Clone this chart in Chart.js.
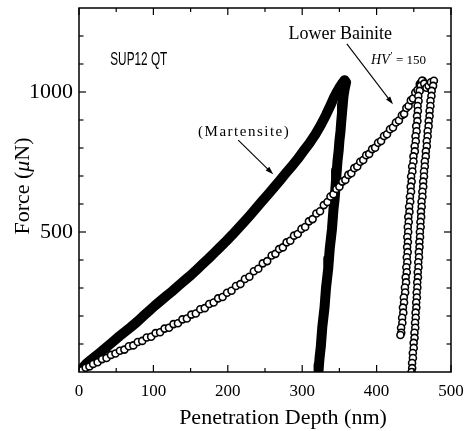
<!DOCTYPE html>
<html>
<head>
<meta charset="utf-8">
<script src="https://cdn.jsdelivr.net/npm/chart.js@4.4.1/dist/chart.umd.min.js"></script>
<style>
  html, body { margin: 0; background: #fff; }
  #wrap { width: 469px; height: 431px; }
</style>
</head>
<body>
<div id="wrap"><canvas id="chart" width="469" height="431"></canvas></div>
<script>
// Martensite (filled band): loading then unloading
const martLoadDepth = [1, 5, 10, 16, 22, 30, 38, 46, 54, 62, 70, 78, 86, 94, 102, 110, 118, 126, 134, 142, 150, 158, 166, 174, 182, 190, 198, 206, 214, 222, 230, 238, 246, 254, 262, 270, 278, 286, 294, 302, 310, 318, 325, 332, 338, 343, 347, 351, 354, 357];
const martLoadForce = [3, 15, 30, 43, 56, 73, 91, 109, 127, 144, 161, 179, 199, 218, 237, 255, 273, 290, 309, 327, 345, 365, 385, 405, 426, 447, 468, 490, 513, 536, 560, 585, 610, 634, 659, 684, 710, 735, 761, 790, 818, 850, 882, 918, 952, 982, 1002, 1020, 1032, 1042];
const martUnloadDepth = [359, 357, 355.5, 354.5, 353.5, 352.5, 351.5, 350, 349, 347.5, 346.5, 345.5, 344.5, 343.5, 342, 341, 340, 338.5, 337, 336, 335, 333.5, 332, 331, 330, 328.5, 327, 326, 325, 323.5, 322.5, 322];
const martUnloadForce = [1035, 1010, 985, 955, 925, 895, 860, 825, 790, 755, 720, 685, 650, 615, 580, 545, 510, 475, 440, 405, 370, 335, 300, 265, 230, 195, 160, 125, 90, 55, 25, 5];

// Lower bainite (open circles): loading, short reload between peaks, two unloading branches
const bainLoadDepth = [4, 9, 14, 19, 25, 31, 37, 43, 49, 55, 61, 67, 73, 79, 85, 91, 97, 103, 109, 115, 121, 127, 133, 139, 145, 151, 157, 163, 169, 175, 181, 187, 193, 199, 205, 211, 217, 223, 229, 235, 241, 247, 253, 259, 264, 269, 274, 279, 284, 289, 294, 299, 304, 309, 314, 319, 324, 329, 334, 338, 342, 346, 350, 354, 358, 362, 366, 370, 374, 378, 382, 386, 390, 394, 398, 402, 406, 410, 414, 418, 422, 426, 430, 434, 437, 440, 443, 446, 449, 452, 455, 458, 460, 462];
const bainLoadForce = [6, 15, 20, 29, 35, 46, 50, 61, 66, 76, 80, 92, 95, 107, 111, 123, 126, 139, 142, 155, 158, 171, 174, 188, 191, 205, 209, 224, 228, 243, 248, 263, 268, 283, 290, 307, 314, 332, 340, 360, 369, 388, 396, 416, 422, 439, 445, 463, 469, 487, 493, 511, 518, 538, 546, 566, 574, 596, 607, 627, 635, 654, 662, 680, 686, 704, 710, 728, 734, 751, 757, 774, 779, 796, 801, 819, 825, 843, 849, 867, 873, 891, 898, 917, 922, 943, 950, 970, 977, 998, 1007, 1028, 1033, 1040];
const bainReloadDepth = [464, 467, 470, 473];
const bainReloadForce = [1030, 1015, 1022, 1035];
const bainUnload1Depth = [461, 459.2, 457.9, 456.0, 456.4, 455.1, 455.5, 454.3, 454.9, 453.2, 453.8, 452.3, 452.7, 451.2, 451.4, 449.5, 449.6, 447.8, 448.1, 446.4, 447.1, 445.8, 446.3, 444.8, 445.2, 443.7, 444.2, 442.6, 443.2, 441.9, 442.5, 441.3, 442.1, 441.0, 441.8, 440.6, 441.3, 440.0, 440.6, 439.1, 439.6, 438.1, 438.4, 436.6, 436.9, 435.4, 435.9, 434.3, 434.6, 432.9, 433.1, 432];
const bainUnload1Force = [1040, 1022, 1004, 986, 968, 950, 932, 914, 896, 878, 860, 842, 824, 806, 788, 770, 752, 734, 716, 698, 680, 662, 644, 626, 608, 590, 572, 554, 536, 518, 500, 482, 464, 446, 428, 410, 392, 374, 356, 338, 320, 302, 284, 266, 248, 230, 212, 194, 176, 158, 140, 132];
const bainUnload2Depth = [477, 475.9, 474.0, 473.7, 472.4, 472.3, 471.2, 471.2, 470.0, 469.9, 468.6, 468.6, 467.4, 467.5, 466.2, 466.1, 464.8, 464.8, 463.7, 463.7, 462.6, 462.7, 461.5, 461.6, 460.4, 460.6, 459.6, 459.9, 458.9, 459.2, 458.2, 458.4, 457.5, 457.7, 456.8, 457.0, 456.0, 456.3, 455.3, 455.6, 454.6, 454.8, 453.9, 454.1, 453.2, 453.4, 452.4, 452.6, 451.7, 452.0, 450.9, 451.0, 449.8, 449.9, 448.7, 448.8, 447.7, 447.8, 447];
const bainUnload2Force = [1040, 1022, 1004, 986, 968, 950, 932, 914, 896, 878, 860, 842, 824, 806, 788, 770, 752, 734, 716, 698, 680, 662, 644, 626, 608, 590, 572, 554, 536, 518, 500, 482, 464, 446, 428, 410, 392, 374, 356, 338, 320, 302, 284, 266, 248, 230, 212, 194, 176, 158, 140, 122, 104, 86, 68, 50, 32, 14, 0];

// axes
const depthTicks = [0, 50, 100, 150, 200, 250, 300, 350, 400, 450, 500];
const forceTicks = [100, 200, 300, 400, 500, 600, 700, 800, 900, 1000, 1100, 1200];
const forceLabels = [500, 1000];

const pts = (xs, ys) => xs.map((v, i) => ({ x: v, y: ys[i] }));

const martensite = pts(martLoadDepth, martLoadForce).concat(pts(martUnloadDepth, martUnloadForce));
const bainite = pts(bainLoadDepth, bainLoadForce)
  .concat(pts(bainUnload1Depth, bainUnload1Force))
  .concat(pts(bainReloadDepth, bainReloadForce))
  .concat(pts(bainUnload2Depth, bainUnload2Force));

function seg(ctx, x1, y1, x2, y2) {
  ctx.beginPath();
  ctx.moveTo(x1, y1);
  ctx.lineTo(x2, y2);
  ctx.stroke();
}

function arrow(ctx, x1, y1, x2, y2) {
  const ang = Math.atan2(y2 - y1, x2 - x1);
  seg(ctx, x1, y1, x2 - 5 * Math.cos(ang), y2 - 5 * Math.sin(ang));
  ctx.beginPath();
  ctx.moveTo(x2, y2);
  ctx.lineTo(x2 - 8 * Math.cos(ang) + 2.6 * Math.sin(ang), y2 - 8 * Math.sin(ang) - 2.6 * Math.cos(ang));
  ctx.lineTo(x2 - 8 * Math.cos(ang) - 2.6 * Math.sin(ang), y2 - 8 * Math.sin(ang) + 2.6 * Math.cos(ang));
  ctx.closePath();
  ctx.fill();
}

// frame and inward ticks on all four sides
const framePlugin = {
  id: 'frame',
  afterDraw(chart) {
    const { ctx, chartArea: a, scales: { x, y } } = chart;
    ctx.save();
    ctx.strokeStyle = '#000';
    ctx.lineWidth = 1.5;
    ctx.strokeRect(a.left, a.top, a.right - a.left, a.bottom - a.top);
    ctx.lineWidth = 1.2;
    depthTicks.forEach(v => {
      const px = x.getPixelForValue(v);
      const len = v % 100 === 0 ? 7 : 4;
      seg(ctx, px, a.bottom, px, a.bottom - len);
      seg(ctx, px, a.top, px, a.top + len);
    });
    forceTicks.forEach(v => {
      const py = y.getPixelForValue(v);
      const len = forceLabels.includes(v) ? 7 : 4.5;
      seg(ctx, a.left, py, a.left + len, py);
      seg(ctx, a.right, py, a.right - len, py);
    });
    ctx.restore();
  }
};

// axis titles, labels and arrows
const notesPlugin = {
  id: 'notes',
  afterDraw(chart) {
    const { ctx, scales: { x, y } } = chart;
    const X = v => x.getPixelForValue(v);
    const Y = v => y.getPixelForValue(v);
    ctx.save();
    ctx.fillStyle = '#000';
    ctx.strokeStyle = '#000';
    ctx.textBaseline = 'alphabetic';

    // x title
    ctx.font = '22px "Liberation Serif"';
    ctx.textAlign = 'center';
    ctx.fillText('Penetration Depth (nm)', 283, 424);

    // y title, rotated, with italic mu
    ctx.save();
    ctx.translate(29, 186);
    ctx.rotate(-Math.PI / 2);
    const parts = [['Force (', '22px "Liberation Serif"'], ['\u03bc', 'italic 22px "Liberation Serif"'], ['N)', '22px "Liberation Serif"']];
    let total = 0;
    parts.forEach(p => { ctx.font = p[1]; total += ctx.measureText(p[0]).width; });
    let cx = -total / 2;
    ctx.textAlign = 'left';
    parts.forEach(p => { ctx.font = p[1]; ctx.fillText(p[0], cx, 0); cx += ctx.measureText(p[0]).width; });
    ctx.restore();

    // SUP12 QT (narrow sans)
    ctx.save();
    ctx.font = '19px "Liberation Sans"';
    ctx.textAlign = 'left';
    const w = ctx.measureText('SUP12 QT').width;
    ctx.translate(X(42), Y(1098));
    ctx.scale(57 / w, 1);
    ctx.fillText('SUP12 QT', 0, 0);
    ctx.restore();

    ctx.font = '18px "Liberation Serif"';
    ctx.textAlign = 'center';
    ctx.fillText('Lower Bainite', X(351), Y(1189));

    // HV' = 150
    ctx.textAlign = 'left';
    let hx = X(392.5);
    const hy = Y(1100);
    ctx.font = 'italic 14px "Liberation Serif"';
    ctx.fillText('HV', hx, hy);
    hx += ctx.measureText('HV').width;
    ctx.font = 'italic 10px "Liberation Serif"';
    ctx.fillText('\u2032', hx, hy - 5);
    hx += 3;
    ctx.font = '13px "Liberation Serif"';
    ctx.fillText(' = 150', hx, hy);

    // (Martensite)
    ctx.font = '15px "Liberation Serif"';
    ctx.letterSpacing = '1.5px';
    ctx.textAlign = 'center';
    ctx.fillText('(Martensite)', X(222), Y(842));
    ctx.letterSpacing = '0px';

    ctx.lineWidth = 1.1;
    arrow(ctx, X(214), Y(828), X(261), Y(706));
    arrow(ctx, X(360), Y(1172), X(422), Y(956));
    ctx.restore();
  }
};

new Chart(document.getElementById('chart'), {
  type: 'scatter',
  data: {
    datasets: [
      {
        label: 'Lower Bainite',
        data: bainite,
        order: 0,
        showLine: false,
        pointRadius: 3.5,
        pointBorderWidth: 1.6,
        pointBackgroundColor: '#fff',
        pointBorderColor: '#000'
      },
      {
        label: 'Martensite',
        data: martensite,
        order: 1,
        showLine: true,
        borderColor: '#000',
        borderWidth: 10,
        borderCapStyle: 'round',
        borderJoinStyle: 'round',
        tension: 0,
        pointRadius: 4,
        pointBorderWidth: 1,
        pointBackgroundColor: '#000',
        pointBorderColor: '#000'
      }
    ]
  },
  options: {
    responsive: false,
    animation: false,
    devicePixelRatio: 1,
    layout: { padding: { top: 8, right: 18, left: 0, bottom: 0 } },
    plugins: { legend: { display: false }, tooltip: { enabled: false } },
    scales: {
      x: {
        type: 'linear',
        min: 0,
        max: 500,
        afterFit: s => { s.height = 59; s.paddingLeft = 0; s.paddingRight = 0; },
        grid: { display: false, drawTicks: false },
        border: { display: false },
        ticks: {
          stepSize: 100,
          maxRotation: 0,
          padding: 9,
          color: '#000',
          font: { family: 'Liberation Serif', size: 17 }
        }
      },
      y: {
        type: 'linear',
        min: 0,
        max: 1300,
        afterFit: s => { s.width = 79; s.paddingTop = 0; s.paddingBottom = 0; },
        grid: { display: false, drawTicks: false },
        border: { display: false },
        ticks: {
          stepSize: 100,
          autoSkip: false,
          padding: 6,
          color: '#000',
          font: { family: 'Liberation Serif', size: 22 },
          callback: v => forceLabels.includes(v) ? String(v) : ''
        }
      }
    }
  },
  plugins: [framePlugin, notesPlugin]
});
</script>
</body>
</html>
